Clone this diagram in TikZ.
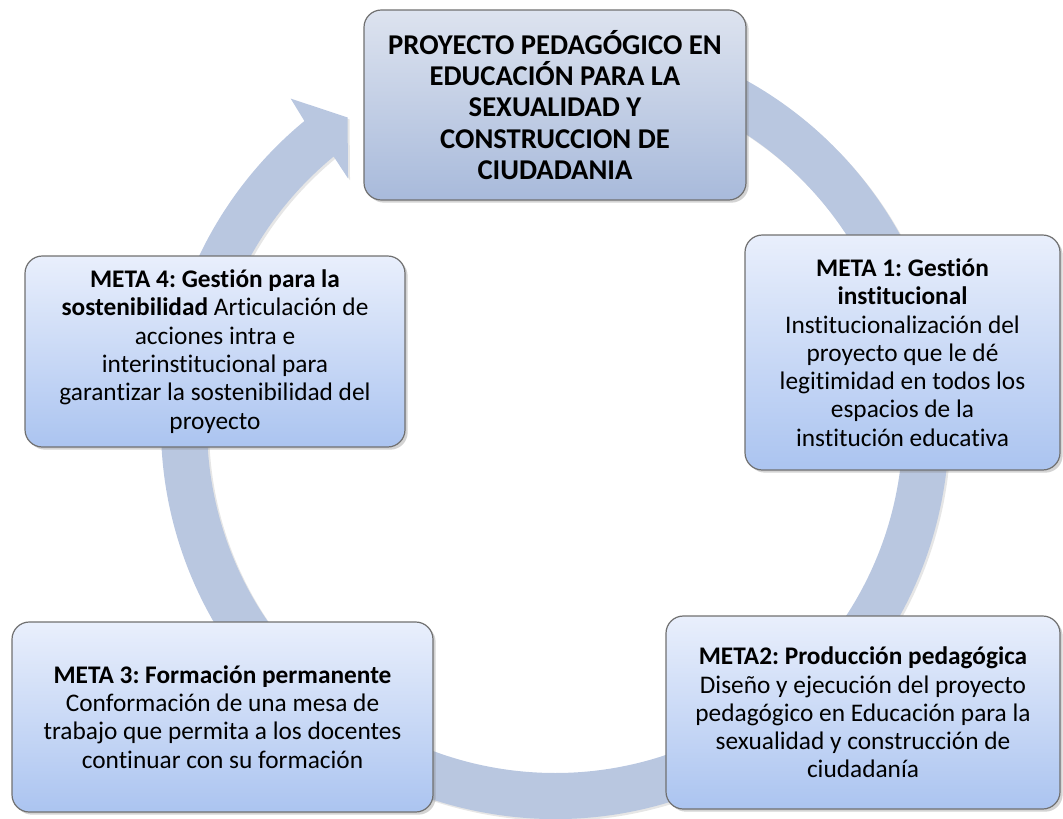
\documentclass[tikz,border=0pt]{standalone}
\usepackage{fontspec}
\setmainfont[RawFeature={-liga;-clig;-calt;-dlig}]{Carlito}
\frenchspacing
\usetikzlibrary{shadows}

\definecolor{anillo}{HTML}{B9C7E0}
\definecolor{borde}{HTML}{707070}
\definecolor{claro}{HTML}{E9EFFC}
\definecolor{oscuro}{HTML}{ABC4F0}
\definecolor{grisclaro}{HTML}{DDE3EF}
\definecolor{grisoscuro}{HTML}{A8BADB}

\tikzstyle{caja} = [draw=borde, line width=0.9pt, rounded corners=13pt, align=center,
    drop shadow={opacity=0.35, shadow xshift=2pt, shadow yshift=-2pt}]
\tikzstyle{proyecto} = [caja, top color=grisclaro, bottom color=grisoscuro,
    font=\fontsize{21.5}{23.3}\selectfont\bfseries]
\tikzstyle{meta} = [caja, top color=claro, bottom color=oscuro,
    font=\fontsize{19}{21.2}\selectfont]

\begin{document}
\begin{tikzpicture}[x=0.75pt, y=-0.75pt]
    \useasboundingbox (0,0) rectangle (1063,818);
    \coordinate (centro) at (555,425);

    % anillo con flecha
    \fill[anillo, drop shadow={opacity=0.2, shadow xshift=1.5pt, shadow yshift=-1.5pt}]
        ([shift={(-80:394)}]centro) arc[start angle=-80, end angle=230.5, radius=394]
        -- ([shift={(231:420)}]centro)
        -- ([shift={(236:371)}]centro)
        -- ([shift={(230:322)}]centro)
        -- ([shift={(230.5:348)}]centro)
        arc[start angle=230.5, end angle=-80, radius=348] -- cycle;

    \node[proyecto, minimum width=286.5pt, minimum height=142.5pt] (proyecto) at (555,105)
        {PROYECTO PEDAGÓGICO EN\\ EDUCACIÓN PARA LA\\ SEXUALIDAD Y\\ CONSTRUCCION DE\\ CIUDADANIA};

    \node[meta, minimum width=236.25pt, minimum height=176.25pt] (meta1) at (902.5,352.5)
        {\textbf{META 1: Gestión}\\ \textbf{institucional}\\ Institucionalización del\\
         proyecto que le dé\\ legitimidad en todos los\\ espacios de la\\ institución educativa};

    \node[meta, minimum width=295.5pt, minimum height=144.75pt] (meta2) at (863,712.5)
        {\textbf{META2: Producción pedagógica}\\ Diseño y ejecución del proyecto\\
         pedagógico en Educación para la\\ sexualidad y construcción de\\ ciudadanía};

    \node[meta, minimum width=315.75pt, minimum height=142.5pt] (meta3) at (222.5,717)
        {\textbf{META 3: Formación permanente}\\ Conformación de una mesa de\\
         trabajo que permita a los docentes\\ continuar con su formación};

    \node[meta, minimum width=285pt, minimum height=143.25pt] (meta4) at (215,351.5)
        {\textbf{META 4: Gestión para la}\\ \textbf{sostenibilidad} Articulación de\\
         acciones intra e\\ interinstitucional para\\ garantizar la sostenibilidad del\\ proyecto};
\end{tikzpicture}
\end{document}
